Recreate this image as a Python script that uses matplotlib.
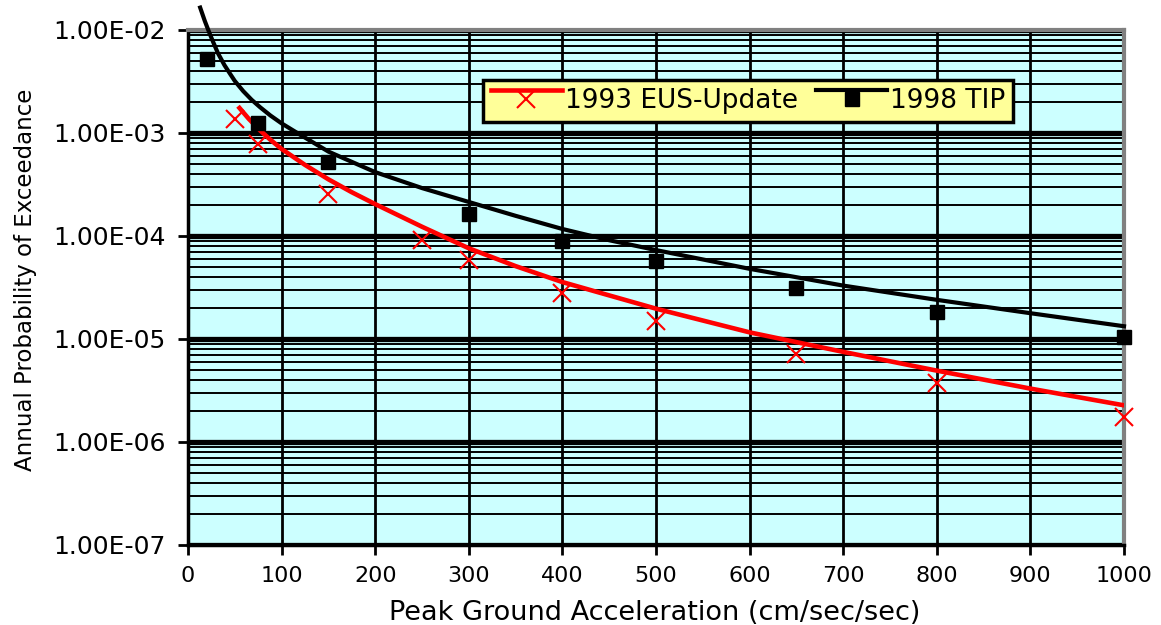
import numpy as np
import matplotlib.pyplot as plt
from matplotlib import ticker
from matplotlib.lines import Line2D
from matplotlib.legend_handler import HandlerLine2DCompound

plt.rcParams["font.family"] = "DejaVu Sans"

# hazard points
eus_x = [50, 75, 150, 250, 300, 400, 500, 650, 800, 1000]
eus_y = [1.36e-3, 7.9e-4, 2.55e-4, 9.1e-5, 5.85e-5, 2.8e-5, 1.5e-5, 7.2e-6, 3.75e-6, 1.76e-6]
tip_x = [20, 75, 150, 300, 400, 500, 650, 800, 1000]
tip_y = [5.2e-3, 1.26e-3, 5.25e-4, 1.62e-4, 8.9e-5, 5.7e-5, 3.1e-5, 1.82e-5, 1.05e-5]

# trend curves
eus_fit_x = [55, 65, 77, 88, 100, 125, 150, 175, 200, 250, 300, 350, 400, 450, 500,
             600, 700, 800, 900, 1000]
eus_fit_y = [1.75e-3, 1.37e-3, 1.06e-3, 8.6e-4, 7.0e-4, 4.9e-4, 3.55e-4, 2.66e-4, 2.04e-4,
             1.23e-4, 7.6e-5, 5.1e-5, 3.57e-5, 2.65e-5, 1.97e-5, 1.16e-5, 7.5e-6, 4.93e-6,
             3.3e-6, 2.27e-6]
tip_fit_x = [13, 18, 23, 27, 32, 39, 45, 50, 59, 68, 77, 88, 100, 120, 150, 200, 250, 300,
             350, 400, 450, 500, 600, 700, 800, 900, 1000]
tip_fit_y = [1.65e-2, 1.22e-2, 9.3e-3, 7.6e-3, 5.95e-3, 4.55e-3, 3.75e-3, 3.2e-3, 2.55e-3,
             2.1e-3, 1.78e-3, 1.48e-3, 1.24e-3, 9.6e-4, 6.6e-4, 4.17e-4, 2.92e-4, 2.14e-4,
             1.57e-4, 1.17e-4, 9.1e-5, 7.3e-5, 4.8e-5, 3.3e-5, 2.4e-5, 1.78e-5, 1.33e-5]

labels = ["1993 EUS-Update", "1998 TIP"]
decades = [1e-7, 1e-6, 1e-5, 1e-4, 1e-3, 1e-2]
xticks = np.arange(0, 1001, 100)


class RaisedLine(HandlerLine2DCompound):
    # excel draws the legend line above the marker
    def create_artists(self, legend, orig_handle, xdescent, ydescent, width, height, fontsize, trans):
        arts = super().create_artists(legend, orig_handle, xdescent, ydescent, width, height, fontsize, trans)
        arts[0].set_ydata(np.asarray(arts[0].get_ydata()) + 0.45 * height)
        return arts


fig = plt.figure(figsize=(11.61, 6.25), dpi=100)
ax = fig.add_axes([188 / 1161, 80 / 625, 936 / 1161, 515 / 625])
ax.set_facecolor('#ccffff')
ax.set_yscale('log')
ax.set_xlim(0, 1000)
ax.set_ylim(1e-7, 1e-2)

ax.plot(eus_fit_x, eus_fit_y, color='#ff0000', lw=3.3, zorder=3)
ax.plot(tip_fit_x, tip_fit_y, color='k', lw=3, zorder=3, clip_on=False)
ax.plot(eus_x, eus_y, ls='none', marker='x', ms=13, mew=1.5, color='#ff0000', zorder=4, clip_on=False)
ax.plot(tip_x, tip_y, ls='none', marker='s', ms=10.5, color='k', zorder=4, clip_on=False)

ax.yaxis.set_major_locator(ticker.FixedLocator(decades))
ax.yaxis.set_minor_locator(ticker.LogLocator(base=10, subs=np.arange(2, 10)))
ax.yaxis.set_major_formatter(ticker.FuncFormatter(lambda v, p: f"{v:.2E}"))
ax.yaxis.set_minor_formatter(ticker.NullFormatter())
ax.set_xticks(xticks)

ax.set_axisbelow(True)
ax.grid(which='major', axis='y', color='k', lw=3.8)
ax.grid(which='minor', axis='y', color='k', lw=1.4)
ax.grid(which='major', axis='x', color='k', lw=2)

ax.tick_params(axis='both', which='major', direction='out', length=7, width=2, color='k')
ax.tick_params(axis='y', which='minor', length=0)
ax.tick_params(axis='y', labelsize=18, pad=9)
ax.tick_params(axis='x', labelsize=16, pad=8)

for s in ['left', 'bottom']:
    ax.spines[s].set_color('k')
    ax.spines[s].set_linewidth(2.5)
for s in ['top', 'right']:
    ax.spines[s].set_color('#808080')
    ax.spines[s].set_linewidth(3)

fig.text(26 / 1161, 1 - 280 / 625, 'Annual Probability of Exceedance', rotation=90,
         ha='center', va='center', fontsize=16.5)
fig.text(655 / 1161, 1 - 613 / 625, 'Peak Ground Acceleration (cm/sec/sec)',
         ha='center', va='center', fontsize=19.5)

handles = [Line2D([], [], color='#ff0000', lw=3.3, marker='x', ms=13, mew=1.5),
           Line2D([], [], color='k', lw=3, marker='s', ms=10.5)]
leg = ax.legend(handles, labels, ncol=2, loc='upper left', bbox_to_anchor=(0.315, 0.903),
                borderaxespad=0, fontsize=19, handlelength=2.7, handletextpad=0.1,
                columnspacing=0.7, borderpad=0.3, fancybox=False, framealpha=1,
                numpoints=1, handler_map={Line2D: RaisedLine()})
leg.get_frame().set_facecolor('#ffff99')
leg.get_frame().set_edgecolor('k')
leg.get_frame().set_linewidth(2.5)

fig.savefig('out.png', dpi=100)
